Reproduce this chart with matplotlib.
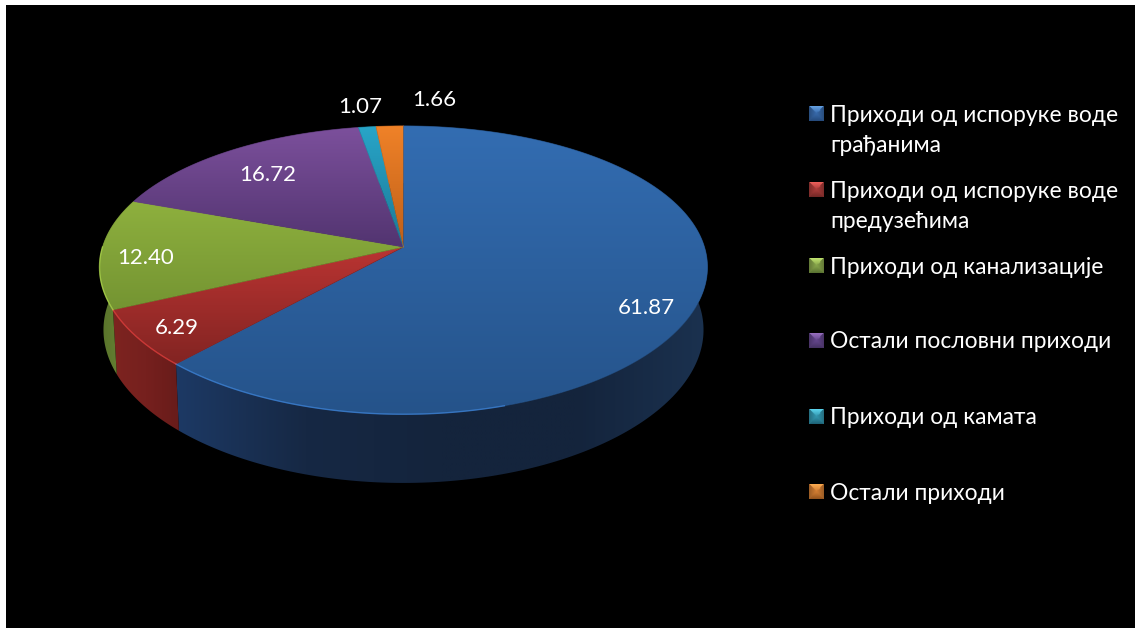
import numpy as np
import matplotlib
matplotlib.use("Agg")
import matplotlib.pyplot as plt
from matplotlib.patches import Polygon, Rectangle

plt.rcParams['font.family'] = ['Lato', 'Noto Sans', 'DejaVu Sans']

# Chart data
categories = ['Приходи од испоруке воде\nграђанима',
              'Приходи од испоруке воде\nпредузећима',
              'Приходи од канализације',
              'Остали пословни приходи',
              'Приходи од камата',
              'Остали приходи']
values = [61.87, 6.29, 12.40, 16.72, 1.07, 1.66]
value_labels = ['61.87', '6.29', '12.40', '16.72', '1.07', '1.66']

# Colours: top face gradient (upper, lower) and side wall gradient (left to right)
top_colors = [((51, 109, 178), (37, 83, 138)),
              ((186, 52, 50), (130, 36, 34)),
              ((142, 176, 62), (116, 148, 50)),
              ((124, 80, 156), (82, 52, 112)),
              ((40, 165, 200), (28, 120, 150)),
              ((240, 130, 40), (190, 95, 25))]
wall_colors = [((29, 58, 102), (22, 40, 68), (20, 36, 60), (20, 36, 60), (27, 50, 80)),
               ((125, 36, 32), (118, 32, 30), (104, 28, 26)),
               ((88, 114, 42), (100, 128, 50), (108, 138, 54)),
               ((60, 38, 85), (60, 38, 85), (60, 38, 85)),
               ((20, 90, 110), (20, 90, 110), (20, 90, 110)),
               ((140, 70, 20), (140, 70, 20), (140, 70, 20))]
legend_colors = [((100, 160, 225), (55, 105, 170), (38, 75, 125)),
                 ((235, 95, 90), (170, 60, 58), (115, 40, 38)),
                 ((190, 225, 110), (135, 165, 75), (90, 115, 50)),
                 ((150, 110, 190), (100, 70, 140), (70, 50, 100)),
                 ((90, 210, 235), (50, 150, 175), (30, 100, 120)),
                 ((250, 170, 80), (210, 125, 50), (150, 85, 30))]

# Layout in pixels of the 1135x628 picture
cx, cy = 403.5, 247
rx = 301
ry = 140.5
persp_x = 0.14
persp_y = 0.16
wall_drop = 62
wall_grow = 1.04
wall_shrink = 0.987
label_pos = [(646, 308), (177, 328), (146, 258), (268, 175), (360, 107), (434, 100)]
legend_y = [(115, 146), (191, 221), (267,), (342,), (418,), (493,)]
marker_y = [114, 190, 266, 341, 417, 492]
legend_x = 809
legend_size = 15
text_x = 830


def rim(theta):
    """Top rim point for clockwise angle from 12 o'clock, with perspective."""
    px, py = np.sin(theta), np.cos(theta)
    return cx + rx * px / (1 + persp_x * py), cy - ry * py / (1 + persp_y * py)


def lower(theta):
    x, y = rim(theta)
    return cx + (x - cx) * wall_shrink, cy + wall_drop + (y - cy) * wall_grow


def grad_image(ax, poly, stops, extent, horizontal=False):
    stops = np.array(stops, dtype=float) / 255
    t = np.linspace(0, 1, 256)
    s = np.linspace(0, 1, len(stops))
    rgb = np.stack([np.interp(t, s, stops[:, i]) for i in range(3)], axis=-1)
    arr = rgb[None, :, :] if horizontal else rgb[:, None, :]
    im = ax.imshow(arr, extent=extent, aspect='auto', interpolation='bilinear', zorder=3)
    patch = Polygon(poly, closed=True, transform=ax.transData, fc='none', ec='none')
    ax.add_patch(patch)
    im.set_clip_path(patch)


def legend_square(ax, x0, y0, size, colors):
    # little bevelled square, light on top and dark at the bottom
    light, mid, dark = [np.array(c, dtype=float) / 255 for c in colors]
    n = 16
    u, v = np.meshgrid(np.linspace(-1, 1, n), np.linspace(-1, 1, n))
    arr = np.zeros((n, n, 3))
    for row in range(n):
        for col in range(n):
            a, b = u[row, col], v[row, col]
            if b < -abs(a):
                m = light * (-b) + mid * (1 + b)
            elif b > abs(a):
                m = dark * b + mid * (1 - b)
            else:
                m = mid * (1 - abs(a) * 0.25)
            arr[row, col] = m
    ax.imshow(arr, extent=(x0, x0 + size, y0 + size / 2, y0 - size / 2), aspect='auto',
              interpolation='bilinear', zorder=6)


fig = plt.figure(figsize=(11.35, 6.28), dpi=100, facecolor='white')
ax = fig.add_axes([0, 0, 1, 1])
ax.axis('off')
ax.add_patch(Rectangle((6, 5), 1135, 628, fc='black', ec='none', zorder=0))

fractions = np.array(values) / sum(values)
edges = np.concatenate([[0], np.cumsum(fractions)]) * 2 * np.pi

# Side walls first, the top face covers whatever is behind
for i in range(len(values)):
    th = np.linspace(edges[i], edges[i + 1], 200)
    x1, y1 = rim(th)
    x2, y2 = lower(th)
    poly = np.column_stack([np.r_[x1, x2[::-1]], np.r_[y1, y2[::-1]]])
    if i == 0:
        # only the front part of the blue slice is seen
        ext = (170, 712, 500, 100)
    else:
        ext = (poly[:, 0].min(), poly[:, 0].max(), 500, 100)
    grad_image(ax, poly, wall_colors[i], ext, horizontal=True)

# Top faces
for i in range(len(values)):
    th = np.linspace(edges[i], edges[i + 1], 300)
    x, y = rim(th)
    poly = np.column_stack([np.r_[cx, x], np.r_[cy, y]])
    upper, low = top_colors[i]
    grad_image(ax, poly, [upper, low], (poly[:, 0].min(), poly[:, 0].max(), poly[:, 1].max(), poly[:, 1].min()))
    edge = tuple((np.array(upper) + np.array(low)) / 510)
    ax.plot(poly[:, 0], poly[:, 1], color=edge, lw=0.6, alpha=0.6, zorder=4)

    # thin lighter rim along the front left edge
    front = (np.cos(th) < 0.0) & (np.sin(th) < 0.3)
    if front.any():
        light = tuple(np.minimum(np.array(upper) * 1.25, 255) / 255)
        ax.plot(x[front], y[front], color=light, lw=1.0, alpha=0.7, zorder=5)

# Value labels
for lab, (lx, ly) in zip(value_labels, label_pos):
    ax.text(lx, ly, lab, color='white', fontsize=16, ha='center', va='center', zorder=6)

# Legend
for i, cat in enumerate(categories):
    legend_square(ax, legend_x, marker_y[i], legend_size, legend_colors[i])
    for line, yy in zip(cat.split('\n'), legend_y[i]):
        ax.text(text_x, yy, line, color='white', fontsize=16.4, ha='left', va='center', zorder=6)

ax.set_xlim(0, 1135)
ax.set_ylim(628, 0)

fig.savefig('out.png', dpi=100, facecolor='white')
